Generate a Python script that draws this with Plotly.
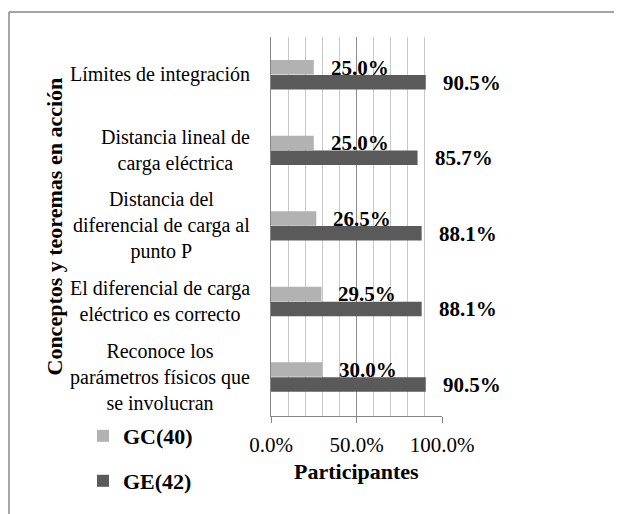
import plotly.graph_objects as go

# ---- data ----
categories = [
    "Límites de integración",
    "Distancia lineal de carga eléctrica",
    "Distancia del diferencial de carga al punto P",
    "El diferencial de carga eléctrico es correcto",
    "Reconoce los parámetros físicos que se involucran",
]
tick_labels = [
    "Límites de integración",
    "Distancia lineal de<br>carga eléctrica",
    "Distancia del<br>diferencial de carga al<br>punto P",
    "El diferencial de carga<br>eléctrico es correcto",
    "Reconoce los<br>parámetros físicos que<br>se involucran",
]
gc_values = [25.0, 25.0, 26.5, 29.5, 30.0]
ge_values = [90.5, 85.7, 88.1, 88.1, 90.5]
series_names = ["GC(40)", "GE(42)"]
x_tick_vals = [0, 50, 100]
x_tick_text = ["0.0%", "50.0%", "100.0%"]

FONT = "'Liberation Serif', 'Times New Roman', Times, serif"
GC_COLOR = "#b2b2b2"
GE_COLOR = "#5a5a5a"
FRAME_COLOR = "#878787"

OFF = 8  # page body margin
W, H = 622 - 2 * OFF, 514 - OFF
L, T = 271 - OFF, 37 - OFF
PW, PH = 171, 379
R = W - L - PW
B = H - T - PH


def px_x(p):
    """window pixel x -> paper coord"""
    return (p - OFF - L) / PW


def px_y(p):
    """window pixel y -> paper coord"""
    return (H - B - (p - OFF)) / PH


fig = go.Figure()
fig.add_trace(go.Bar(
    y=categories, x=gc_values, orientation="h", name=series_names[0],
    marker=dict(color=GC_COLOR, line=dict(width=0)), legend="legend",
    showlegend=True,
))
fig.add_trace(go.Bar(
    y=categories, x=ge_values, orientation="h", name=series_names[1],
    marker=dict(color=GE_COLOR, line=dict(width=0)), legend="legend2",
    showlegend=True,
))

annotations = []
# data labels
for cat, v in zip(categories, gc_values):
    annotations.append(dict(
        x=v, y=cat, xref="x", yref="y", text=f"<b>{v:.1f}%</b>", showarrow=False,
        xanchor="left", yanchor="middle", xshift=15, yshift=7,
        font=dict(family=FONT, size=21, color="black"),
    ))
for cat, v in zip(categories, ge_values):
    annotations.append(dict(
        x=v, y=cat, xref="x", yref="y", text=f"<b>{v:.1f}%</b>", showarrow=False,
        xanchor="left", yanchor="middle", xshift=15, yshift=-8,
        font=dict(family=FONT, size=21, color="black"),
    ))
# category labels
for cat, lab in zip(categories, tick_labels):
    annotations.append(dict(
        x=px_x(252), y=cat, xref="paper", yref="y", text=lab, showarrow=False,
        xanchor="right", yanchor="middle", align="center",
        font=dict(family=FONT, size=20, color="black"),
    ))
# y axis title
annotations.append(dict(
    x=px_x(54), y=0.5, xref="paper", yref="paper",
    text="<b>Conceptos y teoremas en acción</b>", showarrow=False, textangle=-90,
    xanchor="center", yanchor="middle",
    font=dict(family=FONT, size=22, color="black"),
))
# x axis title
annotations.append(dict(
    x=0.5, y=px_y(471), xref="paper", yref="paper",
    text="<b>Participantes</b>", showarrow=False,
    xanchor="center", yanchor="middle",
    font=dict(family=FONT, size=22, color="black"),
))

fig.update_layout(
    width=W, height=H, autosize=False,
    margin=dict(l=L, r=R, t=T, b=B, pad=0),
    paper_bgcolor="white", plot_bgcolor="white",
    font=dict(family=FONT, size=20, color="black"),
    barmode="group", bargap=0.605, bargroupgap=0.03,
    showlegend=True,
    annotations=annotations,
    legend=dict(
        x=px_x(83), y=px_y(436), xanchor="left", yanchor="middle",
        font=dict(family=FONT, size=22, color="black", weight="bold"),
        bgcolor="rgba(0,0,0,0)", borderwidth=0, visible=True,
    ),
    legend2=dict(
        x=px_x(83), y=px_y(481), xanchor="left", yanchor="middle",
        font=dict(family=FONT, size=22, color="black", weight="bold"),
        bgcolor="rgba(0,0,0,0)", borderwidth=0, visible=True,
    ),
    shapes=[
        dict(type="line", xref="paper", yref="paper",
             x0=px_x(9), x1=px_x(640), y0=px_y(12), y1=px_y(12),
             line=dict(color=FRAME_COLOR, width=1.5), layer="below"),
        dict(type="line", xref="paper", yref="paper",
             x0=px_x(9), x1=px_x(9), y0=px_y(12), y1=px_y(530),
             line=dict(color=FRAME_COLOR, width=1.5), layer="below"),
    ],
)
fig.update_xaxes(
    range=[0, 100], tickvals=x_tick_vals, ticktext=x_tick_text,
    showline=True, linecolor="#868686", linewidth=1.2,
    ticks="outside", ticklen=6, tickcolor="#868686", tickwidth=1.2,
    ticklabelstandoff=4,
    showgrid=True, gridcolor="#8c8c8c", gridwidth=1,
    minor=dict(dtick=10, showgrid=True, gridcolor="#c8c8c8", gridwidth=1, ticks=""),
    zeroline=False,
    tickfont=dict(family=FONT, size=21, color="black"),
    fixedrange=True,
)
fig.update_yaxes(
    autorange="reversed", showticklabels=False, ticks="",
    showline=True, linecolor="#868686", linewidth=1.2,
    showgrid=False, zeroline=False, fixedrange=True,
)

fig.write_html("out.html")
